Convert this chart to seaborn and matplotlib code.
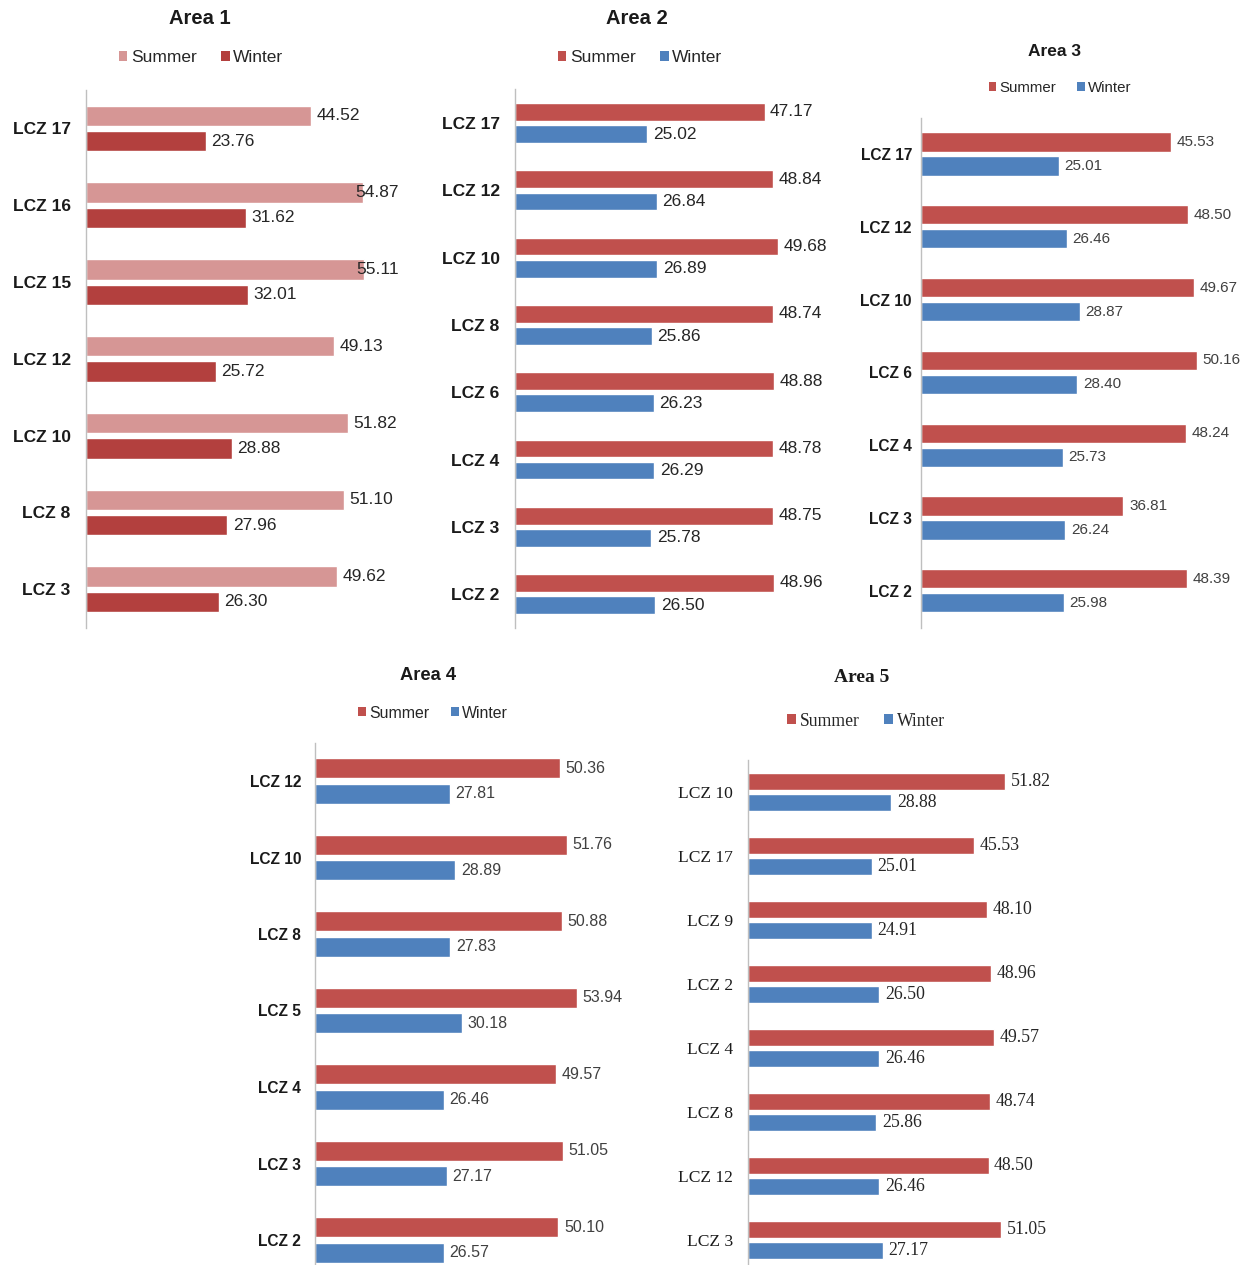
import matplotlib
matplotlib.use("Agg")
import matplotlib.pyplot as plt
from matplotlib.patches import Patch
import pandas as pd
import seaborn as sns

# ---------------- data ----------------
seasons = ["Summer", "Winter"]

area1_lcz = ["LCZ 17", "LCZ 16", "LCZ 15", "LCZ 12", "LCZ 10", "LCZ 8", "LCZ 3"]
area1_summer = [44.52, 54.87, 55.11, 49.13, 51.82, 51.10, 49.62]
area1_winter = [23.76, 31.62, 32.01, 25.72, 28.88, 27.96, 26.30]

area2_lcz = ["LCZ 17", "LCZ 12", "LCZ 10", "LCZ 8", "LCZ 6", "LCZ 4", "LCZ 3", "LCZ 2"]
area2_summer = [47.17, 48.84, 49.68, 48.74, 48.88, 48.78, 48.75, 48.96]
area2_winter = [25.02, 26.84, 26.89, 25.86, 26.23, 26.29, 25.78, 26.50]

area3_lcz = ["LCZ 17", "LCZ 12", "LCZ 10", "LCZ 6", "LCZ 4", "LCZ 3", "LCZ 2"]
area3_summer = [45.53, 48.50, 49.67, 50.16, 48.24, 36.81, 48.39]
area3_winter = [25.01, 26.46, 28.87, 28.40, 25.73, 26.24, 25.98]

area4_lcz = ["LCZ 12", "LCZ 10", "LCZ 8", "LCZ 5", "LCZ 4", "LCZ 3", "LCZ 2"]
area4_summer = [50.36, 51.76, 50.88, 53.94, 49.57, 51.05, 50.10]
area4_winter = [27.81, 28.89, 27.83, 30.18, 26.46, 27.17, 26.57]

area5_lcz = ["LCZ 10", "LCZ 17", "LCZ 9", "LCZ 2", "LCZ 4", "LCZ 8", "LCZ 12", "LCZ 3"]
area5_summer = [51.82, 45.53, 48.10, 48.96, 49.57, 48.74, 48.50, 51.05]
area5_winter = [28.88, 25.01, 24.91, 26.50, 26.46, 25.86, 26.46, 27.17]

# ---------------- style ----------------
sns.set_style("white")
plt.rcParams["font.family"] = ["Liberation Sans", "DejaVu Sans"]

W, H = 1250, 1265
fig = plt.figure(figsize=(W / 100, H / 100), dpi=100)

RED = "#C0504D"
BLUE = "#4F81BD"
PINK = "#D69695"
DARKRED = "#B3403E"


def long_frame(lcz, summer, winter):
    return pd.DataFrame({
        "LCZ": lcz * 2,
        "Value": summer + winter,
        "Season": [seasons[0]] * len(lcz) + [seasons[1]] * len(lcz),
    })


def panel(lcz, summer, winter, title, colors, left, c0, spacing, pxu, xmax,
          bottom_px, title_xy, legend_xy, fs_tick, fs_val, fs_title, fs_leg,
          tick_pad, serif=False, val_color="#262626", label_limit=None):
    n_bottom = (bottom_px - c0) / spacing
    top_px = c0 - 0.5 * spacing
    height = bottom_px - top_px
    width = xmax * pxu
    ax = fig.add_axes([left / W, 1 - bottom_px / H, width / W, height / H])
    fam = ["Liberation Serif", "DejaVu Serif"] if serif else ["Liberation Sans", "DejaVu Sans"]
    df = long_frame(lcz, summer, winter)
    sns.barplot(data=df, y="LCZ", x="Value", hue="Season", order=lcz,
                hue_order=seasons, palette=colors, orient="h", width=0.66,
                gap=0.2, saturation=1, errorbar=None, legend=False, ax=ax)
    ax.set_xlim(0, xmax)
    ax.set_ylim(n_bottom, -0.5)
    ax.set_xlabel("")
    ax.set_ylabel("")
    ax.set_xticks([])
    for s in ["top", "right", "bottom"]:
        ax.spines[s].set_visible(False)
    ax.spines["left"].set_color("#BFBFBF")
    ax.spines["left"].set_linewidth(1.0)
    ax.tick_params(axis="y", length=0, pad=tick_pad)
    for lab in ax.get_yticklabels():
        lab.set_fontfamily(fam)
        lab.set_fontsize(fs_tick)
        lab.set_fontweight("normal" if serif else "bold")
        lab.set_color("#1a1a1a")
    all_labels = []
    for cont in ax.containers:
        labels = ax.bar_label(cont, fmt="%.2f", padding=4, fontsize=fs_val,
                              color=val_color, family=fam)
        for t in labels:
            t.set_clip_on(False)
        all_labels.extend(labels)
    # keep value labels inside the chart area: pull back any label that
    # would run past the right-hand limit
    if label_limit is not None:
        fig.canvas.draw()
        renderer = fig.canvas.get_renderer()
        for t in all_labels:
            bb = t.get_window_extent(renderer)
            over = bb.x1 - label_limit
            if over > 0:
                x, y = t.xyann
                t.xyann = (x - over * 72 / fig.dpi, y)
    fig.text(title_xy[0] / W, 1 - title_xy[1] / H, title, ha="center",
             va="center", fontsize=fs_title, fontweight="bold", family=fam,
             color="#1a1a1a")
    handles = [Patch(facecolor=c, edgecolor="none") for c in colors]
    fig.legend(handles, seasons, loc="center",
               bbox_to_anchor=(legend_xy[0] / W, 1 - legend_xy[1] / H),
               ncol=2, frameon=False, handlelength=0.5, handleheight=0.5,
               handletextpad=0.2, columnspacing=1.4,
               prop={"family": fam, "size": fs_leg})
    return ax


panel(area1_lcz, area1_summer, area1_winter, "Area 1", [PINK, DARKRED],
      left=86, c0=128.5, spacing=76.8, pxu=5.05, xmax=60, bottom_px=628,
      title_xy=(200, 18), legend_xy=(201, 58), fs_tick=12.5, fs_val=12.5,
      fs_title=14.5, fs_leg=12.5, tick_pad=11, label_limit=399)

panel(area2_lcz, area2_summer, area2_winter, "Area 2", [RED, BLUE],
      left=515, c0=123, spacing=67.3, pxu=5.29, xmax=60, bottom_px=628,
      title_xy=(637, 18), legend_xy=(640, 58), fs_tick=12.5, fs_val=12.5,
      fs_title=14.5, fs_leg=12.5, tick_pad=11)

panel(area3_lcz, area3_summer, area3_winter, "Area 3", [RED, BLUE],
      left=921, c0=154, spacing=72.8, pxu=5.5, xmax=55, bottom_px=628,
      title_xy=(1055, 52), legend_xy=(1060, 88), fs_tick=11.2, fs_val=11,
      fs_title=12.5, fs_leg=10.8, tick_pad=6.5, val_color="#404040")

panel(area4_lcz, area4_summer, area4_winter, "Area 4", [RED, BLUE],
      left=315, c0=781, spacing=76.5, pxu=4.86, xmax=60, bottom_px=1264,
      title_xy=(428, 676), legend_xy=(433, 713), fs_tick=11.2, fs_val=11.5,
      fs_title=13.2, fs_leg=11.4, tick_pad=10, val_color="#404040")

panel(area5_lcz, area5_summer, area5_winter, "Area 5", [RED, BLUE],
      left=748, c0=792, spacing=64, pxu=4.96, xmax=60, bottom_px=1264,
      title_xy=(862, 677), legend_xy=(866, 721), fs_tick=12.6, fs_val=12.8,
      fs_title=14, fs_leg=12.7, tick_pad=11, serif=True)

fig.savefig("out.png", dpi=100, facecolor="white")
